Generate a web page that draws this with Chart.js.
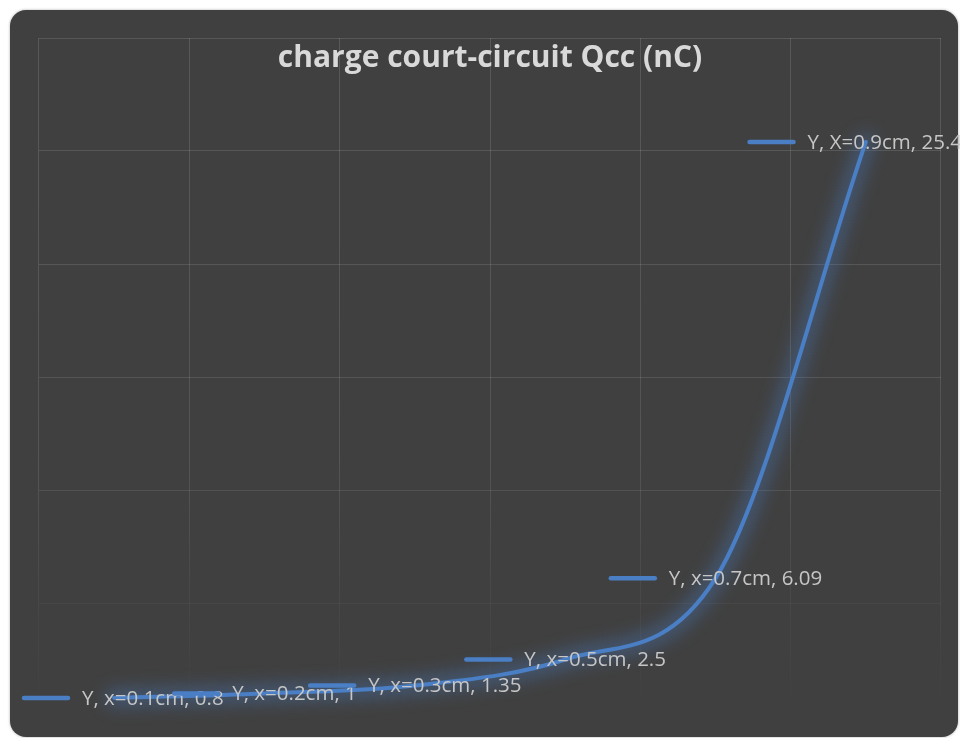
<!DOCTYPE html>
<html>
<head>
<meta charset="utf-8">
<script src="https://cdn.jsdelivr.net/npm/chart.js@4"></script>
<style>
    html, body { margin: 0; padding: 0; background: #ffffff; }
    #wrap { position: relative; width: 960px; height: 738px; overflow: hidden; }
    #card {
        position: absolute; left: 10px; top: 10px; width: 948px; height: 727px;
        background: #404040; border-radius: 16px;
        box-shadow: 0 0 2px 1px rgba(0, 0, 0, 0.15);
    }
    #chartQcc { position: absolute; left: 0; top: 0; }
</style>
</head>
<body>
<div id="wrap">
    <div id="card"></div>
    <canvas id="chartQcc" width="960" height="738"></canvas>
</div>
<script>
// Distance x (cm) and short-circuit charge (nC)
const positions = ["x=0.1cm", "x=0.2cm", "x=0.3cm", "x=0.5cm", "x=0.7cm", "X=0.9cm"];
const qcc = [0.8, 1, 1.35, 2.5, 6.09, 25.4];
const seriesName = "Y";
const chartTitle = "charge court-circuit Qcc (nC)";

const LINE_COLOR = "#4a7fc6";
const LABEL_FONT = '20.5px "Open Sans"';
const TITLE_FONT = 'bold 30px "Open Sans"';

// grid fades out towards the bottom of the plot
function gridColor(c) {
    const chart = c.chart;
    const area = chart.chartArea;
    if (!area) return "rgba(255,255,255,0.1)";
    const g = chart.ctx.createLinearGradient(0, area.top, 0, area.bottom);
    g.addColorStop(0, "rgba(255,255,255,0.13)");
    g.addColorStop(0.62, "rgba(255,255,255,0.11)");
    g.addColorStop(0.84, "rgba(255,255,255,0.04)");
    g.addColorStop(1, "rgba(255,255,255,0.0)");
    return g;
}

// soft blue halo: the same path, wide and blurred, under the line
const glowPlugin = {
    id: "glow",
    beforeDatasetDraw(chart, args) {
        const ctx = chart.ctx;
        const line = args.meta.dataset;
        ctx.save();
        ctx.filter = "blur(8px)";
        ctx.strokeStyle = "rgba(74, 127, 198, 0.34)";
        ctx.lineWidth = 20;
        ctx.lineJoin = "round";
        ctx.lineCap = "round";
        ctx.beginPath();
        line.path(ctx);
        ctx.stroke();
        ctx.restore();
    }
};

// title drawn over the grid
const titlePlugin = {
    id: "overTitle",
    afterDatasetsDraw(chart) {
        const ctx = chart.ctx;
        ctx.save();
        ctx.font = TITLE_FONT;
        ctx.fillStyle = "#d9d9d9";
        ctx.textAlign = "center";
        ctx.textBaseline = "alphabetic";
        ctx.fillText(chartTitle, 490, 67);
        ctx.restore();
    }
};

// data labels with legend key, centred on each point
const keyLabelPlugin = {
    id: "keyLabels",
    afterDatasetsDraw(chart) {
        const ctx = chart.ctx;
        const meta = chart.getDatasetMeta(0);
        const keyW = 48, gap = 12;
        ctx.save();
        ctx.font = LABEL_FONT;
        meta.data.forEach((pt, i) => {
            const text = `${seriesName}, ${positions[i]}, ${qcc[i]}`;
            const tw = ctx.measureText(text).width;
            const total = keyW + gap + tw;
            let x0 = pt.x - total / 2;
            x0 = Math.max(22, Math.min(x0, 962 - total));
            const y = pt.y;

            ctx.strokeStyle = LINE_COLOR;
            ctx.lineWidth = 4.5;
            ctx.lineCap = "round";
            ctx.beginPath();
            ctx.moveTo(x0 + 2, y);
            ctx.lineTo(x0 + keyW - 2, y);
            ctx.stroke();

            ctx.fillStyle = "#c6c6c6";
            ctx.textAlign = "left";
            ctx.textBaseline = "middle";
            ctx.fillText(text, x0 + keyW + gap, y + 1);
        });
        ctx.restore();
    }
};

document.addEventListener("DOMContentLoaded", () => {
    const el = document.getElementById("chartQcc");
    new Chart(el, {
        type: "line",
        data: {
            labels: positions,
            datasets: [{
                label: seriesName,
                data: qcc,
                borderColor: LINE_COLOR,
                borderWidth: 4,
                borderCapStyle: "round",
                pointRadius: 0,
                cubicInterpolationMode: "monotone",
                fill: false
            }]
        },
        options: {
            responsive: false,
            animation: false,
            devicePixelRatio: 1,
            layout: { padding: { left: 39, top: 38, right: 19, bottom: 22 } },
            plugins: {
                legend: { display: false },
                title: { display: false },
                tooltip: { enabled: false }
            },
            scales: {
                x: {
                    offset: true,
                    grid: { offset: true, color: gridColor, lineWidth: 1, drawTicks: false },
                    ticks: { display: false },
                    border: { display: false },
                    afterFit: s => { s.height = 0; }
                },
                y: {
                    min: 0,
                    max: 30,
                    ticks: { display: false, stepSize: 5 },
                    grid: { color: gridColor, lineWidth: 1, drawTicks: false },
                    border: { display: false },
                    afterFit: s => { s.width = 0; }
                }
            }
        },
        plugins: [glowPlugin, titlePlugin, keyLabelPlugin]
    });
});
</script>
</body>
</html>
